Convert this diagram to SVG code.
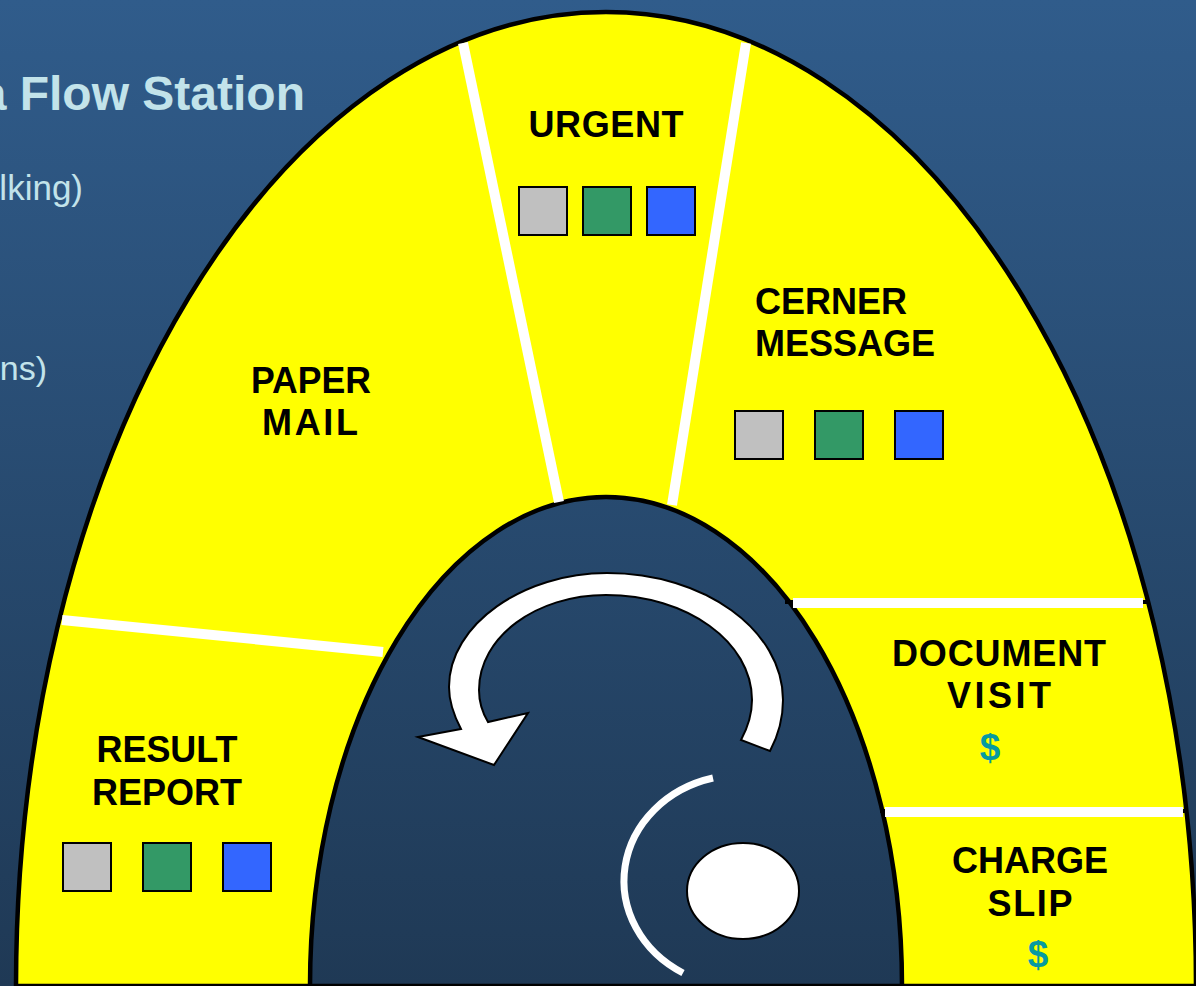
<svg xmlns="http://www.w3.org/2000/svg" width="1196" height="986" viewBox="0 0 1196 986">
<defs>
<linearGradient id="bg" gradientUnits="userSpaceOnUse" x1="0" y1="0" x2="0" y2="986">
<stop offset="0" stop-color="#305c8b"/>
<stop offset="1" stop-color="#1f3955"/>
</linearGradient>
<style>
.lbl{font-family:"Liberation Sans",Arial,sans-serif;font-weight:bold;font-size:36px;fill:#000}
.dol{font-family:"Liberation Sans",Arial,sans-serif;font-weight:bold;font-size:37px;fill:#079aa0}
.sq{stroke:#000;stroke-width:2}
.gray{fill:#c0c0c0}.green{fill:#339966}.blue{fill:#3366ff}
.div{stroke:#fff;stroke-width:10;fill:none}
.bgt{font-family:"Liberation Sans",Arial,sans-serif;fill:#c2e3ea}
</style>
</defs>
<rect width="1196" height="986" fill="url(#bg)"/>
<g id="background-text">
<text class="bgt" x="305" y="110" text-anchor="end" font-size="48" font-weight="bold" fill="#b4dfe6">a Flow Station</text>
<text class="bgt" x="83" y="200" text-anchor="end" font-size="35">lking)</text>
<text class="bgt" x="47" y="380" text-anchor="end" font-size="34">ns)</text>
</g>
<g id="arch">
<path d="M16,986 A590 974 0 0 1 1196,986 Z" fill="#ffff00" stroke="#000" stroke-width="4.5"/>
<path d="M310,986 A296 489 0 0 1 902,986 Z" fill="url(#bg)" stroke="#000" stroke-width="4.5"/>
</g>
<g id="connectors">
<line class="div" x1="463" y1="43" x2="559" y2="502"/>
<line class="div" x1="746" y1="43" x2="672" y2="505"/>
<line class="div" x1="62" y1="620" x2="383" y2="652"/>
<line x1="785" y1="602" x2="1148" y2="602" stroke="#000" stroke-width="4"/>
<line class="div" x1="793" y1="603" x2="1143" y2="603"/>
<line x1="880" y1="811" x2="1185" y2="811" stroke="#000" stroke-width="4"/>
<line class="div" x1="885" y1="812" x2="1183" y2="812"/>
</g>
<g id="urgent">
<text class="lbl" x="606" y="137" text-anchor="middle" textLength="155" lengthAdjust="spacing">URGENT</text>
<rect class="sq gray" x="519" y="187" width="48" height="48"/>
<rect class="sq green" x="583" y="187" width="48" height="48"/>
<rect class="sq blue" x="647" y="187" width="48" height="48"/>
</g>
<g id="cerner-message">
<text class="lbl" x="755" y="314">CERNER</text>
<text class="lbl" x="755" y="356">MESSAGE</text>
<rect class="sq gray" x="735" y="411" width="48" height="48"/>
<rect class="sq green" x="815" y="411" width="48" height="48"/>
<rect class="sq blue" x="895" y="411" width="48" height="48"/>
</g>
<g id="paper-mail">
<text class="lbl" x="311" y="393" text-anchor="middle" textLength="120" lengthAdjust="spacingAndGlyphs">PAPER</text>
<text class="lbl" x="310" y="435" text-anchor="middle" textLength="96" lengthAdjust="spacing">MAIL</text>
</g>
<g id="result-report">
<text class="lbl" x="167" y="762" text-anchor="middle" textLength="141" lengthAdjust="spacingAndGlyphs">RESULT</text>
<text class="lbl" x="167" y="805" text-anchor="middle">REPORT</text>
<rect class="sq gray" x="63" y="843" width="48" height="48"/>
<rect class="sq green" x="143" y="843" width="48" height="48"/>
<rect class="sq blue" x="223" y="843" width="48" height="48"/>
</g>
<g id="document-visit">
<text class="lbl" x="999" y="666" text-anchor="middle" textLength="214" lengthAdjust="spacing">DOCUMENT</text>
<text class="lbl" x="999" y="708" text-anchor="middle" textLength="104" lengthAdjust="spacing">VISIT</text>
<text class="dol" x="990" y="760" text-anchor="middle">$</text>
</g>
<g id="charge-slip">
<text class="lbl" x="1030" y="873" text-anchor="middle">CHARGE</text>
<text class="lbl" x="1030" y="916" text-anchor="middle" textLength="85" lengthAdjust="spacing">SLIP</text>
<text class="dol" x="1038" y="967" text-anchor="middle">$</text>
</g>
<g id="cycle-arrow">
<path d="M418,737 L461,729 C452,712 449,700 449,687 C449,624 524,573 607,573 C704,573 783,630 783,700 C783,718 778,736 770,751 L741,740 C748,727 752,714 752,700 C752,642 687,595 606,595 C536,595 479,637 479,690 C479,702 482,712 488,722 L528,713 L494,765 Z" fill="#fff" stroke="#000" stroke-width="2"/>
</g>
<g id="person">
<path d="M713,778 A117 106 0 0 0 683,973" fill="none" stroke="#fff" stroke-width="7"/>
<ellipse cx="743" cy="891" rx="56" ry="48" fill="#fff" stroke="#000" stroke-width="2"/>
</g>
</svg>
